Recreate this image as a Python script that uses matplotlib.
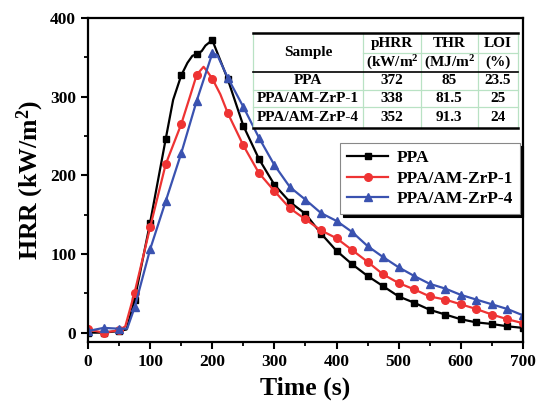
import matplotlib
matplotlib.use('Agg')
import matplotlib.pyplot as plt
from matplotlib.patches import Rectangle

plt.rcParams['font.family'] = 'Liberation Serif'
plt.rcParams['font.weight'] = 'bold'
plt.rcParams['mathtext.fontset'] = 'custom'
plt.rcParams['mathtext.rm'] = 'Liberation Serif:bold'
plt.rcParams['mathtext.bf'] = 'Liberation Serif:bold'
plt.rcParams['mathtext.default'] = 'bf'

# HRR curves (markers every 25 s, a few extra points near the peaks)
t_ppa = [0, 25, 50, 62, 75, 100, 125, 137, 150, 160, 168, 175, 183, 189, 200, 225, 250, 275,
         300, 325, 350, 375, 400, 425, 450, 475, 500, 525, 550, 575, 600, 625, 650, 675, 700]
hrr_ppa = [0, 0, 2, 4, 42, 140, 246, 296, 327, 343, 352, 354, 358, 365, 372, 322, 263, 221,
           188, 166, 151, 126, 104, 87, 72, 59, 46, 38, 29, 23, 17, 13, 11, 8, 6]

t_zrp1 = [0, 25, 50, 60, 75, 100, 125, 150, 164, 175, 186, 192, 200, 213, 225, 250, 275,
          300, 325, 350, 375, 400, 425, 450, 475, 500, 525, 550, 575, 600, 625, 650, 675, 700]
hrr_zrp1 = [4, 0, 3, 8, 51, 134, 214, 265, 300, 328, 338, 332, 323, 303, 279, 238, 203,
            180, 158, 144, 130, 120, 105, 90, 74, 63, 55, 46, 42, 36, 30, 23, 17, 12]

t_zrp4 = [0, 25, 50, 63, 75, 100, 125, 150, 175, 200, 208, 225, 250, 275, 300, 325, 350,
          375, 400, 425, 450, 475, 500, 525, 550, 575, 600, 625, 650, 675, 700]
hrr_zrp4 = [2, 6, 5, 5, 32, 106, 167, 228, 295, 355, 353, 324, 287, 248, 213, 185, 169,
            152, 142, 128, 110, 96, 83, 72, 62, 56, 48, 42, 36, 30, 22]

series_labels = ['PPA', 'PPA/AM-ZrP-1', 'PPA/AM-ZrP-4']

# inset table
table_samples = ['PPA', 'PPA/AM-ZrP-1', 'PPA/AM-ZrP-4']
table_phrr = ['372', '338', '352']
table_thr = ['85', '81.5', '91.3']
table_loi = ['23.5', '25', '24']

black = '#000000'
red = '#ee3333'
blue = '#3a52b0'
grid_green = '#b9e2c4'

fig = plt.figure(figsize=(5.38, 4.01), dpi=100)
ax = fig.add_axes([0.1636, 0.147, 0.8084, 0.808])


def every25(ts):
    return [t % 25 == 0 for t in ts]


ax.plot(t_ppa, hrr_ppa, color=black, lw=1.6, marker='s', ms=5,
        markevery=every25(t_ppa), label=series_labels[0])
ax.plot(t_zrp1, hrr_zrp1, color=red, lw=1.6, marker='o', ms=5.5,
        markevery=every25(t_zrp1), label=series_labels[1])
ax.plot(t_zrp4, hrr_zrp4, color=blue, lw=1.6, marker='^', ms=5.5,
        markevery=every25(t_zrp4), label=series_labels[2])

ax.set_xlim(0, 700)
ax.set_ylim(-12, 400)
ax.set_xticks(range(0, 701, 100))
ax.set_xticks(range(50, 701, 100), minor=True)
ax.set_yticks(range(0, 401, 100))
ax.set_yticks(range(50, 401, 100), minor=True)
ax.tick_params(which='major', direction='out', length=5, width=1.5, labelsize=12.5)
ax.tick_params(which='minor', direction='out', length=3, width=1.3)
for lab in ax.get_xticklabels() + ax.get_yticklabels():
    lab.set_fontweight('bold')
for sp in ax.spines.values():
    sp.set_linewidth(1.6)

ax.set_xlabel('Time (s)', fontsize=18.5, fontweight='bold', labelpad=5)
ax.set_ylabel('HRR (kW/m$^2$)', fontsize=18.5, fontweight='bold', labelpad=3)

leg = ax.legend(loc='upper left', bbox_to_anchor=(0.579, 0.614), borderaxespad=0,
                frameon=True, fancybox=False, shadow={'color': 'black', 'alpha': 1},
                edgecolor='#888888', handlelength=2.4, handletextpad=0.5,
                labelspacing=0.25, borderpad=0.4,
                prop={'family': 'Liberation Serif', 'weight': 'bold', 'size': 12.5})
leg.get_frame().set_linewidth(0.8)

# table drawn in axes coordinates
col_x = [0.3786, 0.633, 0.7655, 0.8959, 0.9878]
row_y = [0.9546, 0.8910, 0.8343, 0.7778, 0.7244, 0.6596]
tr = ax.transAxes
ax.add_patch(Rectangle((col_x[0], row_y[-1]), col_x[-1] - col_x[0], row_y[0] - row_y[-1],
                       transform=tr, facecolor='white', edgecolor='none', zorder=5))
for x in col_x:
    ax.plot([x, x], [row_y[-1], row_y[0]], transform=tr, color=grid_green, lw=0.9, zorder=6)
ax.plot([col_x[1], col_x[-1]], [row_y[1], row_y[1]], transform=tr, color=grid_green, lw=0.9, zorder=6)
for y in row_y[3:5]:
    ax.plot([col_x[0], col_x[-1]], [y, y], transform=tr, color=grid_green, lw=0.9, zorder=6)
for y, w in ((row_y[0], 1.8), (row_y[2], 1.2), (row_y[-1], 1.8)):
    ax.plot([col_x[0], col_x[-1]], [y, y], transform=tr, color='black', lw=w, zorder=7)

fs = 11


def cell(col, y, s):
    ax.text((col_x[col] + col_x[col + 1]) / 2, y, s, transform=tr, ha='center', va='center',
            fontsize=fs, fontweight='bold', zorder=8)


cell(0, (row_y[0] + row_y[2]) / 2, 'Sample')
cell(1, (row_y[0] + row_y[1]) / 2, 'pHRR')
cell(2, (row_y[0] + row_y[1]) / 2, 'THR')
cell(3, (row_y[0] + row_y[1]) / 2, 'LOI')
cell(1, (row_y[1] + row_y[2]) / 2, '(kW/m$^2$')
cell(2, (row_y[1] + row_y[2]) / 2, '(MJ/m$^2$')
cell(3, (row_y[1] + row_y[2]) / 2, '(%)')
for i in range(3):
    yc = (row_y[2 + i] + row_y[3 + i]) / 2
    cell(0, yc, table_samples[i])
    cell(1, yc, table_phrr[i])
    cell(2, yc, table_thr[i])
    cell(3, yc, table_loi[i])

fig.savefig('out.png', dpi=100)
